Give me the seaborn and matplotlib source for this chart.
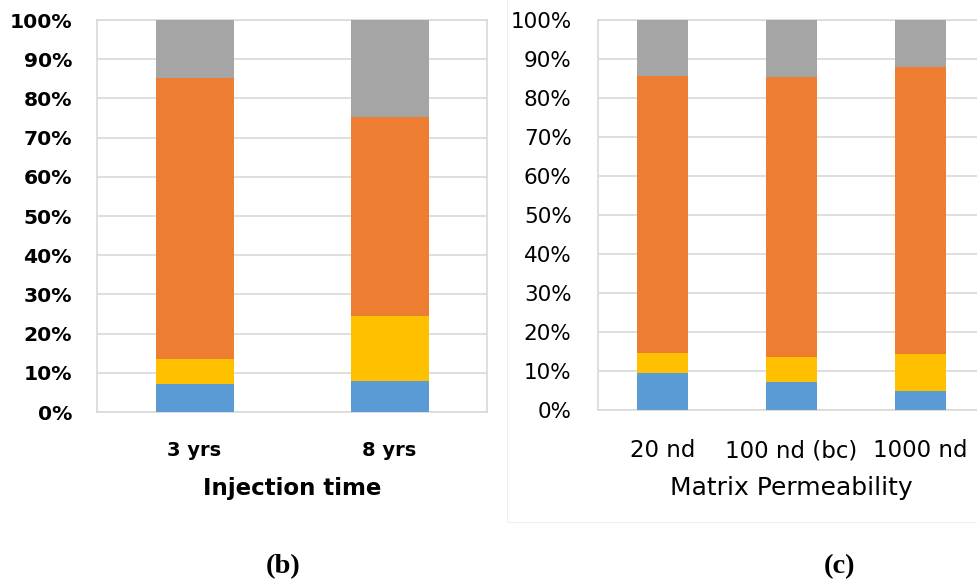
import matplotlib
matplotlib.use("Agg")
import matplotlib.pyplot as plt
import numpy as np
import pandas as pd
import seaborn as sns

# ---- data (percent of total, bottom to top) ----
injection_labels = ["3 yrs", "8 yrs"]
inj_blue = [7.1, 7.8]
inj_yellow = [6.4, 16.6]
inj_orange = [71.8, 50.8]
inj_gray = [14.7, 24.8]

perm_labels = ["20 nd", "100 nd (bc)", "1000 nd"]
perm_blue = [9.6, 7.3, 4.9]
perm_yellow = [4.9, 6.2, 9.4]
perm_orange = [71.2, 71.8, 73.7]
perm_gray = [14.3, 14.7, 12.0]

y_ticks = [0, 10, 20, 30, 40, 50, 60, 70, 80, 90, 100]
y_tick_labels = [f"{t}%" for t in y_ticks]

colors = ["#5B9BD5", "#FFC000", "#ED7D31", "#A5A5A5"]
GRID = "#D9D9D9"

sns.set_theme(style="white")
plt.rcParams["font.family"] = ["DejaVu Sans"]
plt.rcParams["text.color"] = "black"
plt.rcParams["axes.labelcolor"] = "black"
plt.rcParams["xtick.color"] = "black"
plt.rcParams["ytick.color"] = "black"

fig = plt.figure(figsize=(9.78, 5.84), dpi=100)
W, H = 978, 584


def axes_px(x0, x1, ytop, ybot):
    return fig.add_axes([x0 / W, (H - ybot) / H, (x1 - x0) / W, (ybot - ytop) / H])


def stacked(ax, labels, segments, width):
    df = pd.DataFrame({"cat": labels})
    cum = np.cumsum(np.array(segments), axis=0)
    # draw tallest cumulative first so lower segments sit on top
    for i in range(len(segments) - 1, -1, -1):
        df["val"] = cum[i]
        sns.barplot(data=df, x="cat", y="val", color=colors[i], saturation=1,
                    width=width, ax=ax, zorder=3, linewidth=0)
    ax.set_ylim(0, 100)
    ax.set_xlim(-0.5, len(labels) - 0.5)
    ax.set_yticks(y_ticks)
    ax.set_yticklabels(y_tick_labels)
    ax.yaxis.grid(True, color=GRID, linewidth=1.2, zorder=0)
    ax.set_axisbelow(True)
    for s in ax.spines.values():
        s.set_color(GRID)
        s.set_linewidth(1.2)
    ax.tick_params(length=0, colors="black")
    ax.set_ylabel("")


# (b) Injection time
ax1 = axes_px(97, 487, 20, 412)
stacked(ax1, injection_labels, [inj_blue, inj_yellow, inj_orange, inj_gray], 0.4)
ax1.tick_params(axis="y", pad=18, labelsize=14.6)
ax1.tick_params(axis="x", pad=21, labelsize=14)
for t in ax1.get_yticklabels() + ax1.get_xticklabels():
    t.set_fontweight("bold")
ax1.set_xlabel("Injection time", fontsize=16.5, fontweight="bold", labelpad=12)

# (c) Matrix permeability
ax2 = axes_px(598, 985, 20, 410)
stacked(ax2, perm_labels, [perm_blue, perm_yellow, perm_orange, perm_gray], 0.395)
ax2.tick_params(axis="y", pad=19, labelsize=15.5)
ax2.tick_params(axis="x", pad=21, labelsize=16.5)
ax2.set_xlabel("Matrix Permeability", fontsize=18, labelpad=10)

# faint outer border of the right chart
fig.add_artist(plt.Line2D([507 / W, 507 / W], [(H - 522) / H, 1], color="#EFEFEF", lw=0.8))
fig.add_artist(plt.Line2D([507 / W, 1], [(H - 522) / H, (H - 522) / H], color="#EFEFEF", lw=0.8))

# panel captions
fig.text(283 / W, (H - 567) / H, "(b)", family="Liberation Serif", fontweight="bold",
         fontsize=20.5, ha="center", va="center", color="black")
fig.text(840 / W, (H - 567) / H, "(c)", family="Liberation Serif", fontweight="bold",
         fontsize=20.5, ha="center", va="center", color="black")

fig.savefig("out.png", dpi=100)
